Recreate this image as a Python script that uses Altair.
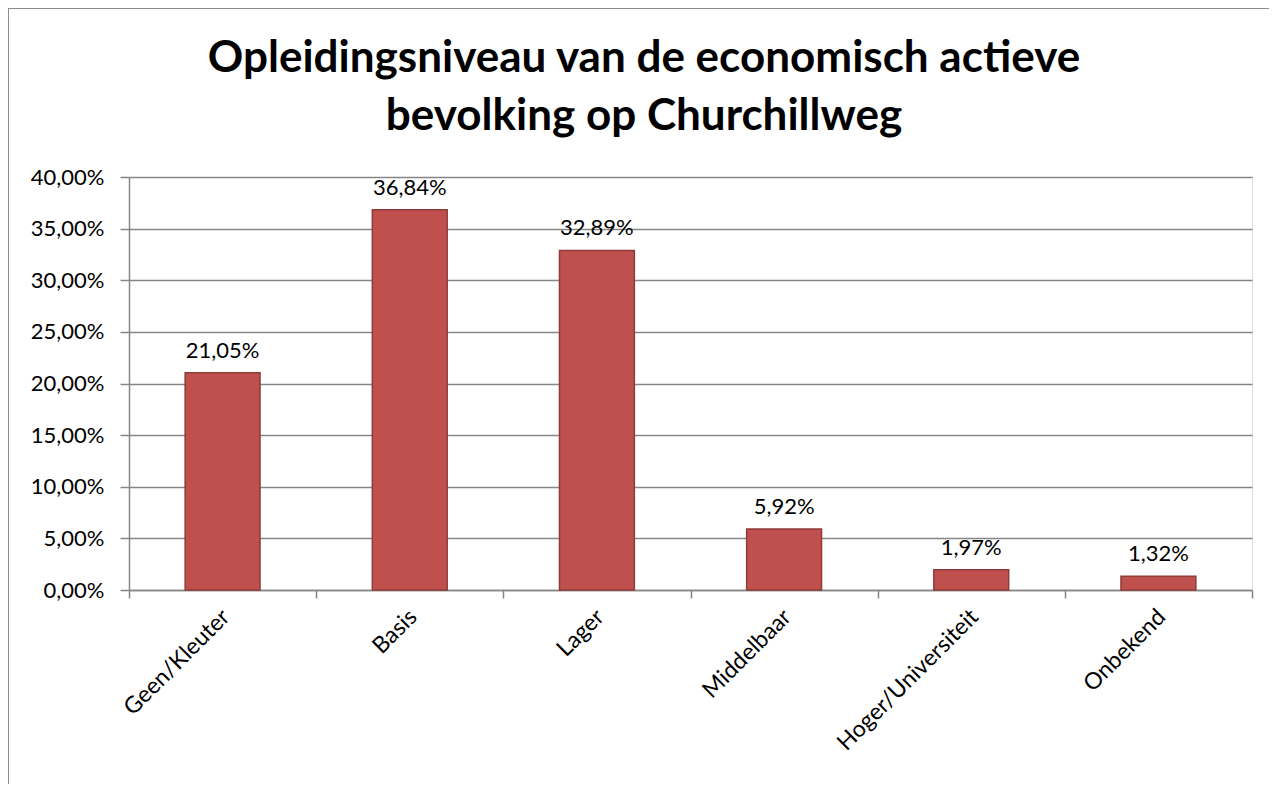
import altair as alt
import pandas as pd

categories = ["Geen/Kleuter", "Basis", "Lager", "Middelbaar", "Hoger/Universiteit", "Onbekend"]
values = [0.2105, 0.3684, 0.3289, 0.0592, 0.0197, 0.0132]
y_ticks = [0, 0.05, 0.10, 0.15, 0.20, 0.25, 0.30, 0.35, 0.40]
title_line1 = "Opleidingsniveau van de economisch actieve"
title_line2 = "bevolking op Churchillweg"

FONT = "Lato"
W, H = 1123, 413
PL, PT, PR, PB = 121, 169, 17, 194

df = pd.DataFrame({"cat": categories, "val": values})

x = alt.X("cat:N", sort=categories, title=None,
          scale=alt.Scale(paddingInner=0, paddingOuter=0),
          axis=alt.Axis(labelAngle=-45, labelAlign="right", labelBaseline="middle",
                        labelFont=FONT, labelFontSize=23, labelColor="#000000",
                        labelPadding=15, labelLimit=500, tickBand="extent", tickSize=8,
                        tickColor="#868686", domainColor="#868686", tickWidth=1.5,
                        domainWidth=1.5, grid=False, labelOffset=3))
y = alt.Y("val:Q", title=None,
          scale=alt.Scale(domain=[0, 0.4], nice=False),
          axis=alt.Axis(values=y_ticks, labelExpr="replace(format(datum.value, '.2%'), '.', ',')",
                        labelFont=FONT, labelFontSize=22, labelColor="#000000",
                        tickSize=9, tickColor="#868686", domainColor="#868686",
                        tickWidth=1.5, domainWidth=1.5, gridColor="#868686", gridWidth=1.5,
                        labelPadding=16))

base = alt.Chart(df)

bars = base.mark_bar(width=alt.RelativeBandSize(0.4), color="#C0504D",
                     stroke="#8E3B39", strokeWidth=1.5).encode(x=x, y=y)

labels = base.transform_calculate(
    lab="replace(format(datum.val, '.2%'), '.', ',')"
).mark_text(baseline="bottom", dy=-10, font=FONT, fontSize=22, color="#000000").encode(
    x=alt.X("cat:N", sort=categories), y="val:Q", text="lab:N")

one = pd.DataFrame({"k": [0]})

def title_text(line, baseline_y):
    return alt.Chart(one).mark_text(
        font=FONT, fontSize=44, fontWeight="bold", color="#000000",
        align="center", baseline="alphabetic", clip=False, text=line
    ).encode(x=alt.value(644 - 8 - PL), y=alt.value(baseline_y - 8 - PT))

t1 = title_text(title_line1, 72)
t2 = title_text(title_line2, 130)

border = alt.Chart(one).mark_rect(
    fill=None, stroke="#8C8C8C", strokeWidth=2, clip=False
).encode(x=alt.value(-PL), x2=alt.value(W + PR + 30), y=alt.value(-PT), y2=alt.value(H + PB + 30))

chart = alt.layer(bars, labels, t1, t2, border).properties(
    width=W, height=H,
    padding={"left": PL, "top": PT, "right": PR, "bottom": PB},
    autosize=alt.AutoSizeParams(type="none"),
).configure_view(fill="#F2E7E7", stroke=None).configure(background="#FFFFFF")

chart.save("out.html", embed_options={"renderer": "svg", "actions": False})
